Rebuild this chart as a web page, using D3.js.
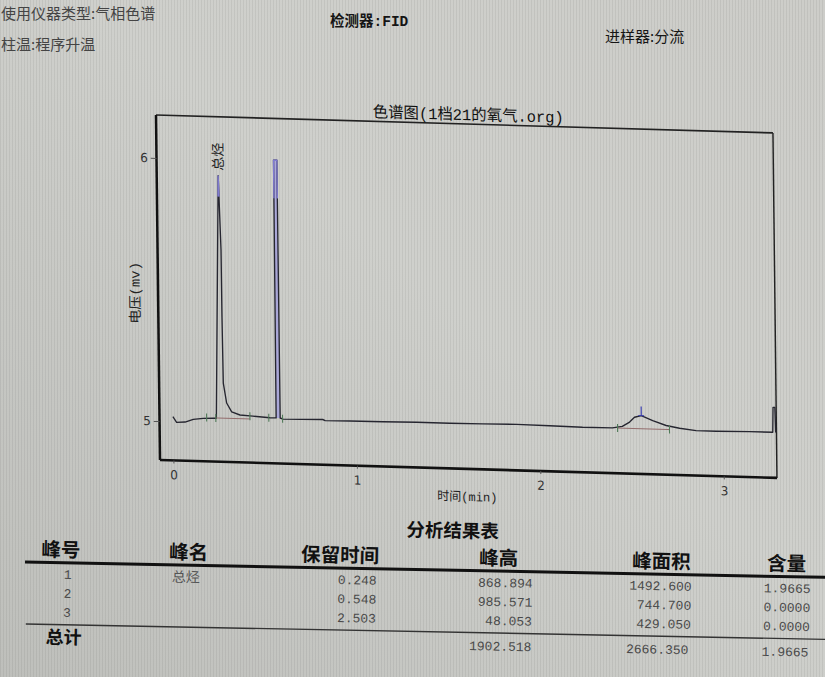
<!DOCTYPE html>
<html><head><meta charset="utf-8">
<script src="https://cdn.jsdelivr.net/npm/d3@7/dist/d3.min.js"></script>
<style>html,body{margin:0;padding:0;overflow:hidden;background:#c9cac6}</style>
</head><body>
<svg id="c" width="825" height="677"></svg>
<script>
// ---------- data ----------
const headerLeft = ["使用仪器类型:气相色谱", "柱温:程序升温"];
const headerDetector = "检测器:FID";
const headerInjector = "进样器:分流";
const chartTitle = "色谱图(1档21的氧气.org)";
const xLabel = "时间(min)";
const yLabel = "电压(mv)";
const xTicks = [0, 1, 2, 3];
const yTicks = [5, 6];
const xDomain = [-0.073, 3.29];
const yDomain = [4.852, 6.1635];

// chromatogram trace (min, mV)
const traceTime = [0.000, 0.020, 0.066, 0.111, 0.165, 0.220, 0.237, 0.262, 0.273, 0.274,
  0.277, 0.294, 0.321, 0.366, 0.436, 0.529, 0.563, 0.565, 0.583, 0.585,
  0.600, 0.700, 0.817, 0.830, 0.964, 1.144, 1.329, 1.509, 1.689, 1.874,
  2.053, 2.233, 2.396, 2.450, 2.490, 2.517, 2.554, 2.616, 2.689, 2.762,
  2.852, 2.961, 3.143, 3.270, 3.273, 3.283, 3.286];
const traceValue = [5.018, 4.997, 4.999, 5.010, 5.015, 5.017, 5.017, 5.940, 5.657, 5.402,
  5.151, 5.076, 5.043, 5.032, 5.029, 5.025, 5.025, 6.005, 6.005, 5.025,
  5.021, 5.022, 5.024, 5.020, 5.021, 5.022, 5.024, 5.024, 5.025, 5.027,
  5.025, 5.023, 5.024, 5.031, 5.048, 5.067, 5.074, 5.056, 5.039, 5.030,
  5.023, 5.023, 5.025, 5.025, 5.120, 5.120, 5.025];

// integration markers
const markerTimes = [0.184, 0.234, 0.420, 0.523, 0.598, 2.424, 2.707];
const markerLevel = [5.019, 5.018, 5.028, 5.025, 5.022, 5.024, 5.024];
const baseSegStart = [0.234, 2.424];
const baseSegEnd = [0.420, 2.707];
const baseSegLevel = [5.018, 5.024];
const apexMarkT = 2.554, apexMarkV = 5.074;
const peakLabel = "总烃", peakLabelT = 0.262, peakLabelV = 5.940;

// results table
const tableTitle = "分析结果表";
const colHeads = ["峰号", "峰名", "保留时间", "峰高", "峰面积", "含量"];
const peakNo = ["1", "2", "3"];
const peakName = ["总烃", "", ""];
const retTime = ["0.248", "0.548", "2.503"];
const peakHeight = ["868.894", "985.571", "48.053"];
const peakArea = ["1492.600", "744.700", "429.050"];
const content = ["1.9665", "0.0000", "0.0000"];
const totalLabel = "总计";
const totals = ["1902.518", "2666.350", "1.9665"];

// ---------- drawing ----------
const svg = d3.select("#c");
const defs = svg.append("defs");
const grad = defs.append("linearGradient").attr("id", "bg").attr("x1", "1").attr("y1", "0").attr("x2", "0").attr("y2", "1");
grad.append("stop").attr("offset", "0").attr("stop-color", "#cdcdc9");
grad.append("stop").attr("offset", "0.45").attr("stop-color", "#cfd0cc");
grad.append("stop").attr("offset", "1").attr("stop-color", "#bebfbb");
const pat = defs.append("pattern").attr("id", "stripes").attr("width", 3).attr("height", 10).attr("patternUnits", "userSpaceOnUse");
pat.append("rect").attr("width", 1).attr("height", 10).attr("fill", "#000").attr("opacity", 0.06);
svg.append("rect").attr("width", 825).attr("height", 677).attr("fill", "url(#bg)");
svg.append("rect").attr("width", 825).attr("height", 677).attr("fill", "url(#stripes)");

const CJK = "'Noto Sans CJK SC','Noto Sans',sans-serif";
const MONO_CJK = "'Liberation Mono','Noto Sans CJK SC',monospace";

// header
svg.append("text").attr("x", 1).attr("y", 19).attr("font-family", CJK).attr("font-size", 15).attr("fill", "#444").text(headerLeft[0]);
svg.append("text").attr("x", 1).attr("y", 50).attr("font-family", CJK).attr("font-size", 15).attr("fill", "#444").text(headerLeft[1]);
svg.append("text").attr("x", 330).attr("y", 26).attr("font-family", MONO_CJK).attr("font-size", 14.5).attr("font-weight", 600).attr("fill", "#151515").text(headerDetector);
svg.append("text").attr("x", 605).attr("y", 42).attr("font-family", CJK).attr("font-size", 15).attr("fill", "#151515").text(headerInjector);

// chart
const W = 640, H = 345;
const x = d3.scaleLinear().domain(xDomain).range([0, W]);
const y = d3.scaleLinear().domain(yDomain).range([H, 0]);
const g = svg.append("g").attr("transform", "matrix(0.964,0.028,0.0116,1,156,115)");

g.append("text").attr("x", W / 2 + 4).attr("y", -4).attr("text-anchor", "middle")
  .attr("font-family", MONO_CJK).attr("font-size", 16).attr("fill", "#111").text(chartTitle);

// frame
g.append("line").attr("x1", 0).attr("y1", 0).attr("x2", W).attr("y2", 0).attr("stroke", "#222").attr("stroke-width", 1.6);
g.append("line").attr("x1", W).attr("y1", 0).attr("x2", W).attr("y2", H).attr("stroke", "#222").attr("stroke-width", 1.5);
g.append("line").attr("x1", 0).attr("y1", 0).attr("x2", 0).attr("y2", H).attr("stroke", "#111").attr("stroke-width", 2.6);
g.append("line").attr("x1", 0).attr("y1", H).attr("x2", W).attr("y2", H).attr("stroke", "#111").attr("stroke-width", 2.6);

const yAxis = g.append("g").call(d3.axisLeft(y).tickValues(yTicks).tickSize(6).tickPadding(3).tickFormat(d3.format("d")));
const xAxis = g.append("g").attr("transform", `translate(0,${H})`).call(d3.axisBottom(x).tickValues(xTicks).tickSize(3).tickPadding(7).tickFormat(d3.format("d")));
[yAxis, xAxis].forEach(a => {
  a.select(".domain").remove();
  a.selectAll("line").attr("stroke", "#555");
  a.selectAll("text").attr("font-family", "'DejaVu Sans',sans-serif").attr("font-size", 12.5).attr("fill", "#333");
});

g.append("text").attr("transform", `translate(-19,${H / 2 + 6}) rotate(-90)`).attr("text-anchor", "middle")
  .attr("font-family", MONO_CJK).attr("font-size", 14).attr("fill", "#222").text(yLabel);
g.append("text").attr("x", x(1.6)).attr("y", H + 32).attr("text-anchor", "middle")
  .attr("font-family", MONO_CJK).attr("font-size", 12.5).attr("fill", "#222").text(xLabel);

// trace
const pts = traceTime.map((t, i) => [t, traceValue[i]]);
// peak 2 fill
const p2 = pts.filter(p => p[0] >= 0.563 && p[0] <= 0.585);
g.append("path").datum(p2).attr("fill", "#a29fdc").attr("opacity", 0.8)
  .attr("d", d3.area().x(d => x(d[0])).y0(y(5.025)).y1(d => y(d[1])));
const lineGen = d3.line().x(d => x(d[0])).y(d => y(d[1]));
g.append("path").datum(pts).attr("fill", "none").attr("stroke", "#262630").attr("stroke-width", 1.4).attr("stroke-linejoin", "round").attr("d", lineGen);
defs.append("clipPath").attr("id", "topclip").append("rect").attr("x", 0).attr("y", 0).attr("width", W).attr("height", y(5.86));
g.append("path").datum(pts).attr("fill", "none").attr("stroke", "#7f7ad0").attr("stroke-width", 1.4).attr("clip-path", "url(#topclip)").attr("d", lineGen);

// baselines under peaks
g.selectAll(".bseg").data(baseSegStart).enter().append("line").attr("class", "bseg")
  .attr("x1", d => x(d)).attr("x2", (d, i) => x(baseSegEnd[i]))
  .attr("y1", (d, i) => y(baseSegLevel[i])).attr("y2", (d, i) => y(baseSegLevel[i]))
  .attr("stroke", "#8c6262").attr("stroke-width", 0.9);
// integration tick marks
g.selectAll(".mk").data(markerTimes).enter().append("line").attr("class", "mk")
  .attr("x1", d => x(d)).attr("x2", d => x(d))
  .attr("y1", (d, i) => y(markerLevel[i]) - 4).attr("y2", (d, i) => y(markerLevel[i]) + 4)
  .attr("stroke", "#4f7a58").attr("stroke-width", 1.1);
// apex marker of peak 3
g.append("line").attr("x1", x(apexMarkT)).attr("x2", x(apexMarkT)).attr("y1", y(apexMarkV)).attr("y2", y(apexMarkV) - 9).attr("stroke", "#3b3fb0").attr("stroke-width", 1.2);
g.append("line").attr("x1", x(apexMarkT) - 3).attr("x2", x(apexMarkT) + 3).attr("y1", y(apexMarkV)).attr("y2", y(apexMarkV)).attr("stroke", "#3b3fb0").attr("stroke-width", 1);

// peak label
g.append("text").attr("transform", `translate(${x(peakLabelT) + 5},${y(peakLabelV) - 5}) rotate(-90)`)
  .attr("font-family", CJK).attr("font-size", 14).attr("fill", "#222").text(peakLabel);

// table
const tg = svg.append("g").attr("transform", "rotate(1.1,25,563)");
tg.append("text").attr("x", 452).attr("y", 529).attr("text-anchor", "middle").attr("font-family", CJK)
  .attr("font-size", 18.5).attr("font-weight", "bold").attr("fill", "#111").text(tableTitle);
const headX = [41, 169, 301, 479, 632, 767];
tg.selectAll(".ch").data(colHeads).enter().append("text").attr("class", "ch")
  .attr("x", (d, i) => headX[i]).attr("y", 556).attr("font-family", CJK).attr("font-size", 19.5)
  .attr("font-weight", "bold").attr("fill", "#111").text(d => d);
tg.append("line").attr("x1", 25).attr("x2", 835).attr("y1", 562).attr("y2", 562).attr("stroke", "#111").attr("stroke-width", 3);
tg.append("line").attr("x1", 27).attr("x2", 835).attr("y1", 624).attr("y2", 624).attr("stroke", "#333").attr("stroke-width", 1.4);

const rowY = [578, 597, 616];
const numStyle = sel => sel.attr("font-family", "'Liberation Mono',monospace").attr("font-size", 13).attr("fill", "#4a4a4a");
tg.selectAll(".pn").data(peakNo).enter().append("text").attr("class", "pn").attr("x", 68).attr("y", (d, i) => rowY[i])
  .attr("text-anchor", "middle").call(numStyle).text(d => d);
tg.selectAll(".pname").data(peakName).enter().append("text").attr("class", "pname").attr("x", 172).attr("y", (d, i) => rowY[i] + 1)
  .attr("font-family", CJK).attr("font-size", 14).attr("fill", "#555").text(d => d);
const cols = [[retTime, 377], [peakHeight, 533], [peakArea, 692], [content, 811]];
cols.forEach(([arr, rx]) => {
  tg.selectAll(null).data(arr).enter().append("text").attr("x", rx).attr("y", (d, i) => rowY[i])
    .attr("text-anchor", "end").call(numStyle).text(d => d);
});
tg.append("text").attr("x", 47).attr("y", 643).attr("font-family", CJK).attr("font-size", 18)
  .attr("font-weight", "bold").attr("fill", "#111").text(totalLabel);
const totX = [533, 690, 810];
tg.selectAll(".tot").data(totals).enter().append("text").attr("class", "tot").attr("x", (d, i) => totX[i]).attr("y", 641.5)
  .attr("text-anchor", "end").call(numStyle).text(d => d);
</script>
</body></html>
